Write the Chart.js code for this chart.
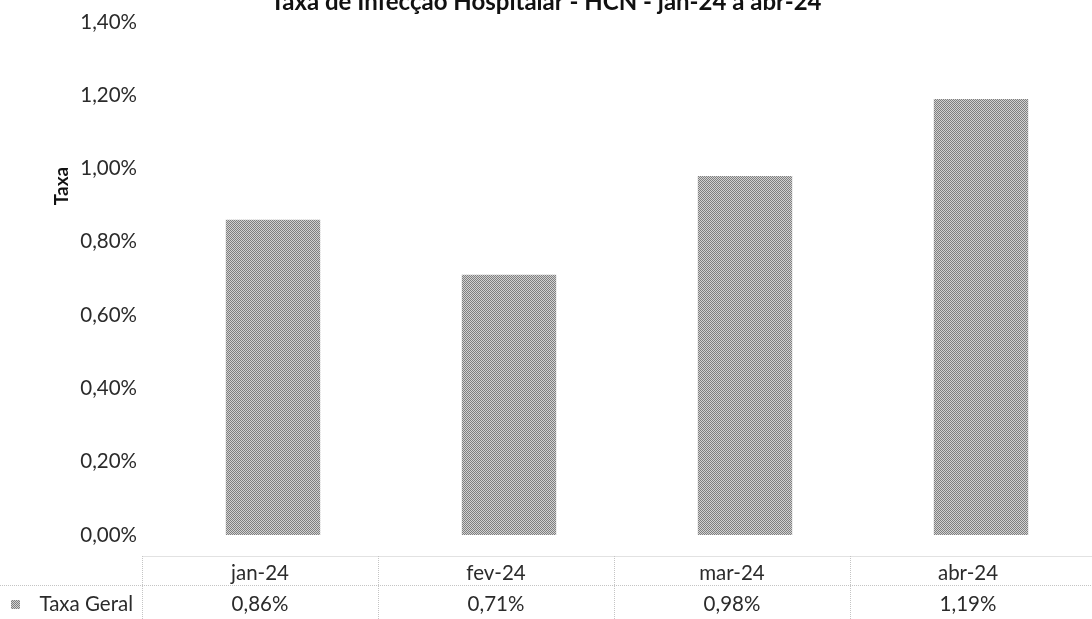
<!DOCTYPE html>
<html>
<head>
<meta charset="utf-8">
<script src="https://cdn.jsdelivr.net/npm/chart.js@4"></script>
<style>
  html, body { margin: 0; padding: 0; background: #fff; overflow: hidden; }
  #wrap { position: absolute; left: 0; top: 0; width: 1100px; height: 619px; }
</style>
</head>
<body>
<div id="wrap"><canvas id="c" width="1100" height="619"></canvas></div>
<script>
const chartTitle = 'Taxa de Infecção Hospitalar - HCN - jan-24 a abr-24';
const yAxisTitle = 'Taxa';
const categories = ['jan-24', 'fev-24', 'mar-24', 'abr-24'];
const seriesName = 'Taxa Geral';
const taxaGeral = [0.86, 0.71, 0.98, 1.19];
const yMin = 0, yMax = 1.4, yStep = 0.2;

const FONT = 'Lato, "Open Sans", sans-serif';
const TEXT = '#2b2b2b';
const TABLE_SHIFT = -13;

function fmt(v) { return v.toFixed(2).replace('.', ',') + '%'; }

function makePattern(ctx) {
  const p = document.createElement('canvas');
  p.width = 2; p.height = 2;
  const c = p.getContext('2d');
  c.fillStyle = '#d2d2d2'; c.fillRect(0, 0, 2, 2);
  c.fillStyle = '#7f7f7f'; c.fillRect(0, 0, 1, 1); c.fillRect(1, 1, 1, 1);
  return ctx.createPattern(p, 'repeat');
}

const ctx = document.getElementById('c').getContext('2d');
const pattern = makePattern(ctx);

const tablePlugin = {
  id: 'tablePlugin',
  afterDraw(chart) {
    const c = chart.ctx;
    const area = chart.chartArea;
    const xs = chart.scales.x;
    const top = 556, mid = 585, bottom = 619;
    const w = (area.right - area.left) / categories.length;
    c.save();
    // title (clipped at top like the reference)
    c.fillStyle = '#111';
    c.font = 'bold 24px ' + FONT;
    c.textAlign = 'center';
    c.textBaseline = 'alphabetic';
    c.fillText(chartTitle, 546, 10);
    // y axis title
    c.save();
    c.translate(62, 186);
    c.rotate(-Math.PI / 2);
    c.font = 'bold 19px ' + FONT;
    c.textAlign = 'center';
    c.textBaseline = 'middle';
    c.fillStyle = '#111';
    c.fillText(yAxisTitle, 0, 0);
    c.restore();
    // table lines
    c.strokeStyle = '#c4c4c4';
    c.lineWidth = 1;
    c.setLineDash([1, 1]);
    c.beginPath();
    const tableLeft = Math.round(xs.getPixelForValue(0) - w / 2 + TABLE_SHIFT) + 0.5;
    c.moveTo(tableLeft, top + 0.5); c.lineTo(chart.width, top + 0.5);
    c.moveTo(0, mid + 0.5); c.lineTo(chart.width, mid + 0.5);
    for (let i = 0; i < categories.length; i++) {
      const x = Math.round(xs.getPixelForValue(i) - w / 2 + TABLE_SHIFT) + 0.5;
      c.moveTo(x, top); c.lineTo(x, bottom);
    }
    c.stroke();
    c.setLineDash([]);
    // legend key
    c.fillStyle = pattern;
    c.fillRect(11, 600, 9, 9);
    c.fillStyle = TEXT;
    c.font = '20.5px ' + FONT;
    c.textAlign = 'right';
    c.textBaseline = 'middle';
    c.fillText(seriesName, 133, 604);
    // values row
    c.textAlign = 'center';
    taxaGeral.forEach((v, i) => {
      c.fillText(fmt(v), xs.getPixelForValue(i) + TABLE_SHIFT, 604);
    });
    c.restore();
  }
};

new Chart(ctx, {
  type: 'bar',
  data: {
    labels: categories,
    datasets: [{
      label: seriesName,
      data: taxaGeral,
      backgroundColor: pattern,
      borderWidth: 0,
      barPercentage: 0.40,
      categoryPercentage: 1.0
    }]
  },
  options: {
    responsive: false,
    animation: false,
    devicePixelRatio: 1,
    layout: { padding: { left: 0, right: 1, top: 22, bottom: 0 } },
    plugins: {
      legend: { display: false },
      title: { display: false },
      tooltip: { enabled: false }
    },
    scales: {
      x: {
        grid: { display: false, drawTicks: false },
        border: { display: false },
        ticks: { color: TEXT, font: { family: FONT, size: 20.5 }, padding: 26, labelOffset: TABLE_SHIFT, maxRotation: 0 },
        afterFit(s) { s.height = 84; s.paddingLeft = 0; s.paddingRight = 0; }
      },
      y: {
        min: yMin, max: yMax,
        grid: { display: false, drawTicks: false },
        border: { display: false },
        ticks: {
          stepSize: yStep,
          color: TEXT,
          font: { family: FONT, size: 20.5 },
          padding: 18,
          callback: (v) => fmt(v)
        },
        afterFit(s) { s.width = 155; s.paddingTop = 0; s.paddingBottom = 0; }
      }
    }
  },
  plugins: [tablePlugin]
});
</script>
</body>
</html>
